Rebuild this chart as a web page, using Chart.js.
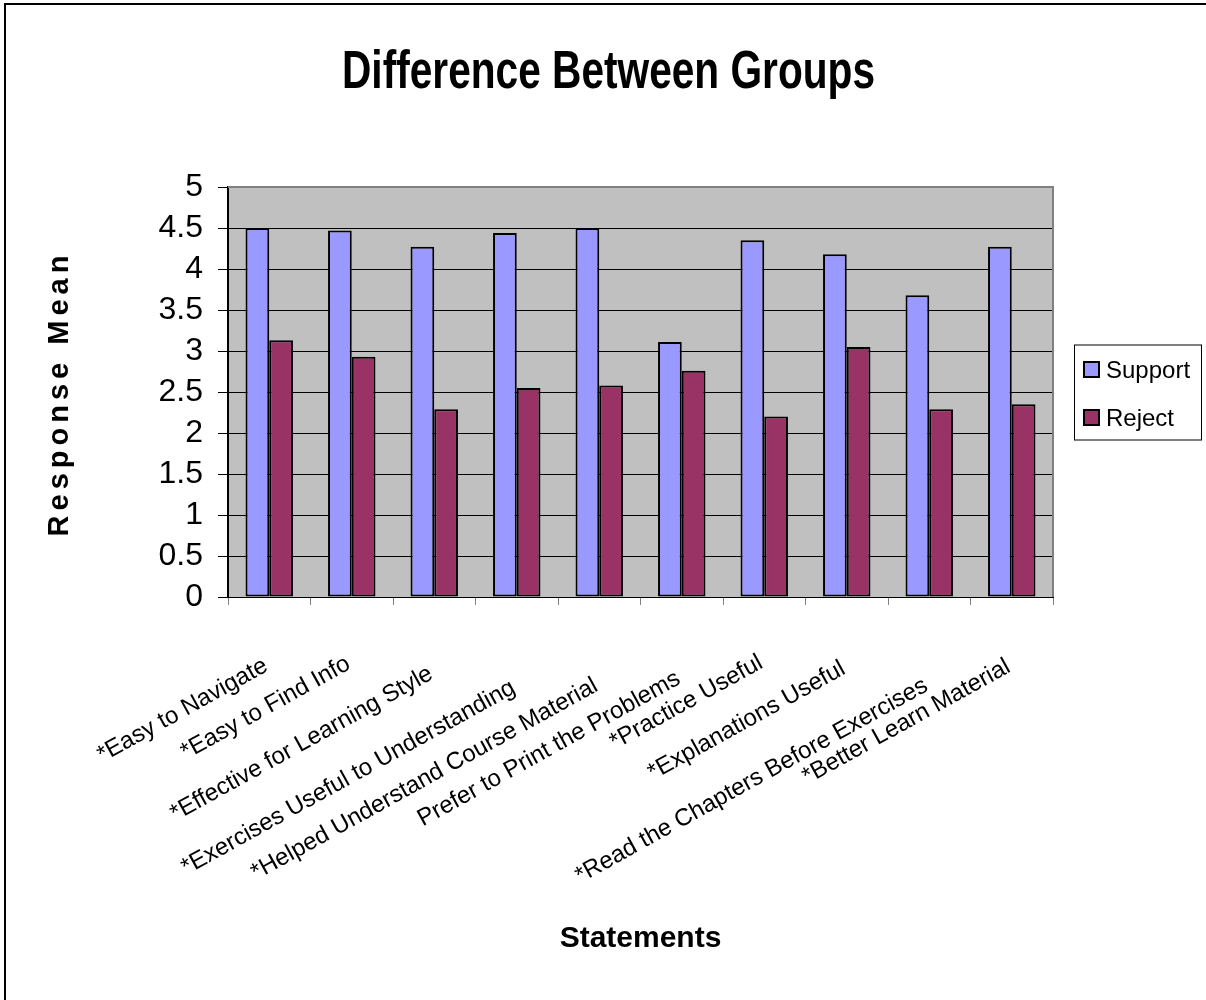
<!DOCTYPE html>
<html>
<head>
<meta charset="utf-8">
<title>Difference Between Groups</title>
<script src="https://cdn.jsdelivr.net/npm/chart.js@4.4.0/dist/chart.umd.min.js"></script>
<style>
  html, body { margin: 0; padding: 0; background: #fff; }
  #wrap { width: 1206px; height: 1000px; }
  canvas { display: block; }
</style>
</head>
<body>
<div id="wrap"><canvas id="chart" width="1206" height="1000"></canvas></div>
<script>
// ---- data ----
const statements = [
  '*Easy to Navigate',
  '*Easy to Find Info',
  '*Effective for Learning Style',
  '*Exercises Useful to Understanding',
  '*Helped Understand Course Material',
  'Prefer to Print the Problems',
  '*Practice Useful',
  '*Explanations Useful',
  '*Read the Chapters Before Exercises',
  '*Better Learn Material'
];
const supportMeans = [4.50, 4.47, 4.27, 4.44, 4.50, 3.11, 4.35, 4.18, 3.68, 4.27];
const rejectMeans  = [3.13, 2.93, 2.29, 2.55, 2.58, 2.76, 2.20, 3.05, 2.29, 2.35];
const seriesNames  = ['Support', 'Reject'];
const responseTicks = [0, 0.5, 1, 1.5, 2, 2.5, 3, 3.5, 4, 4.5, 5];
const chartTitle = 'Difference Between Groups';
const yTitle = 'Response Mean';
const xTitle = 'Statements';

// ---- layout / style ----
const FONT = '"Liberation Sans", Arial, Helvetica, sans-serif';
const supportColor = '#9999FF';
const rejectColor = '#993366';
const plotFill = '#C0C0C0';
// how far below the axis each rotated statement's baseline end sits (px)
const labelDrop = [73, 71, 81, 95, 93, 86, 70, 76, 93, 74];
const labelAngle = 29 * Math.PI / 180;

const decorations = {
  id: 'decorations',
  beforeDraw(chart) {
    const { ctx, chartArea: a } = chart;
    ctx.save();
    ctx.fillStyle = '#fff';
    ctx.fillRect(0, 0, chart.width, chart.height);
    ctx.fillStyle = plotFill;
    ctx.fillRect(a.left, a.top, a.right - a.left, a.bottom - a.top);
    ctx.restore();
  },
  beforeDatasetsDraw(chart) {
    // grey frame on top and right of the plot area
    const { ctx, chartArea: a } = chart;
    ctx.save();
    ctx.strokeStyle = '#808080';
    ctx.lineWidth = 2;
    ctx.beginPath();
    ctx.moveTo(a.left, a.top);
    ctx.lineTo(a.right, a.top);
    ctx.lineTo(a.right, a.bottom);
    ctx.stroke();
    ctx.restore();
  },
  afterDraw(chart) {
    const { ctx, chartArea: a } = chart;
    const xs = chart.scales.x;
    ctx.save();
    ctx.fillStyle = '#000';

    // main title, set in a condensed bold face
    ctx.font = `bold 54px ${FONT}`;
    ctx.textAlign = 'center';
    ctx.textBaseline = 'alphabetic';
    const natural = ctx.measureText(chartTitle).width;
    const squeeze = 533 / natural;
    ctx.save();
    ctx.translate((a.left + a.right) / 2 - 32, 88);
    ctx.scale(squeeze, 1);
    ctx.fillText(chartTitle, 0, 0);
    ctx.restore();

    // vertical axis title, letter-spaced
    ctx.save();
    ctx.font = `bold 29px ${FONT}`;
    ctx.letterSpacing = '5px';
    ctx.translate(68, (a.top + a.bottom) / 2 + 4);
    ctx.rotate(-Math.PI / 2);
    ctx.textAlign = 'center';
    ctx.fillText(yTitle, 2.5, 0);
    ctx.restore();

    // rotated statement labels, ending under each category
    ctx.font = `24px ${FONT}`;
    ctx.textAlign = 'right';
    ctx.textBaseline = 'alphabetic';
    chart.data.labels.forEach((label, i) => {
      ctx.save();
      ctx.translate(xs.getPixelForTick(i), xs.top + labelDrop[i]);
      ctx.rotate(-labelAngle);
      ctx.fillText(label, 0, 0);
      ctx.restore();
    });

    // legend box
    const boxW = 127, boxH = 95;
    const bx = a.right + 21;
    const by = (a.top + a.bottom) / 2 - boxH / 2;
    ctx.fillStyle = '#fff';
    ctx.fillRect(bx, by, boxW, boxH);
    ctx.strokeStyle = '#000';
    ctx.lineWidth = 1;
    ctx.strokeRect(bx + 0.5, by + 0.5, boxW, boxH);
    ctx.font = `24px ${FONT}`;
    ctx.textAlign = 'left';
    chart.data.datasets.forEach((ds, i) => {
      const cy = by + 25 + i * 48;
      ctx.fillStyle = ds.backgroundColor;
      ctx.fillRect(bx + 10, cy - 7.5, 15, 15);
      ctx.lineWidth = 2;
      ctx.strokeRect(bx + 10, cy - 7.5, 15, 15);
      ctx.fillStyle = '#000';
      ctx.fillText(ds.label, bx + 32, cy + 8.5);
    });

    // outer chart border
    ctx.strokeStyle = '#000';
    ctx.lineWidth = 2;
    ctx.beginPath();
    ctx.moveTo(5, chart.height + 2);
    ctx.lineTo(5, 4);
    ctx.lineTo(chart.width + 2, 4);
    ctx.stroke();
    ctx.restore();
  }
};

new Chart(document.getElementById('chart'), {
  type: 'bar',
  data: {
    labels: statements,
    datasets: [
      {
        label: seriesNames[0],
        data: supportMeans,
        backgroundColor: supportColor,
        borderColor: '#000',
        borderWidth: 2,
        borderSkipped: false
      },
      {
        label: seriesNames[1],
        data: rejectMeans,
        backgroundColor: rejectColor,
        borderColor: '#000',
        borderWidth: 2,
        borderSkipped: false
      }
    ]
  },
  options: {
    responsive: false,
    animation: false,
    devicePixelRatio: 1,
    barPercentage: 1,
    categoryPercentage: 0.575,
    layout: { padding: { top: 187, right: 153, bottom: 0, left: 0 } },
    plugins: {
      legend: { display: false },
      title: { display: false },
      tooltip: { enabled: false }
    },
    scales: {
      x: {
        offset: true,
        grid: {
          display: true,
          offset: true,
          drawOnChartArea: false,
          drawTicks: true,
          tickLength: 8,
          color: '#808080',
          lineWidth: 1
        },
        border: { display: true, color: '#000', width: 1 },
        ticks: { display: false },
        title: {
          display: true,
          text: xTitle,
          color: '#000',
          font: { family: FONT, size: 30, weight: 'bold' },
          padding: { top: 0, bottom: 43 }
        },
        afterFit(scale) { scale.height = 403; }
      },
      y: {
        min: 0,
        max: 5,
        afterBuildTicks(scale) {
          scale.ticks = responseTicks.map(v => ({ value: v }));
        },
        grid: {
          color: '#000',
          lineWidth: 1,
          tickLength: 10,
          tickColor: '#000'
        },
        border: { display: true, color: '#000', width: 2 },
        ticks: {
          color: '#000',
          padding: 15,
          autoSkip: false,
          font: { family: FONT, size: 32 },
          callback: v => String(v)
        },
        afterFit(scale) { scale.width = 228; }
      }
    }
  },
  plugins: [decorations]
});
</script>
</body>
</html>
